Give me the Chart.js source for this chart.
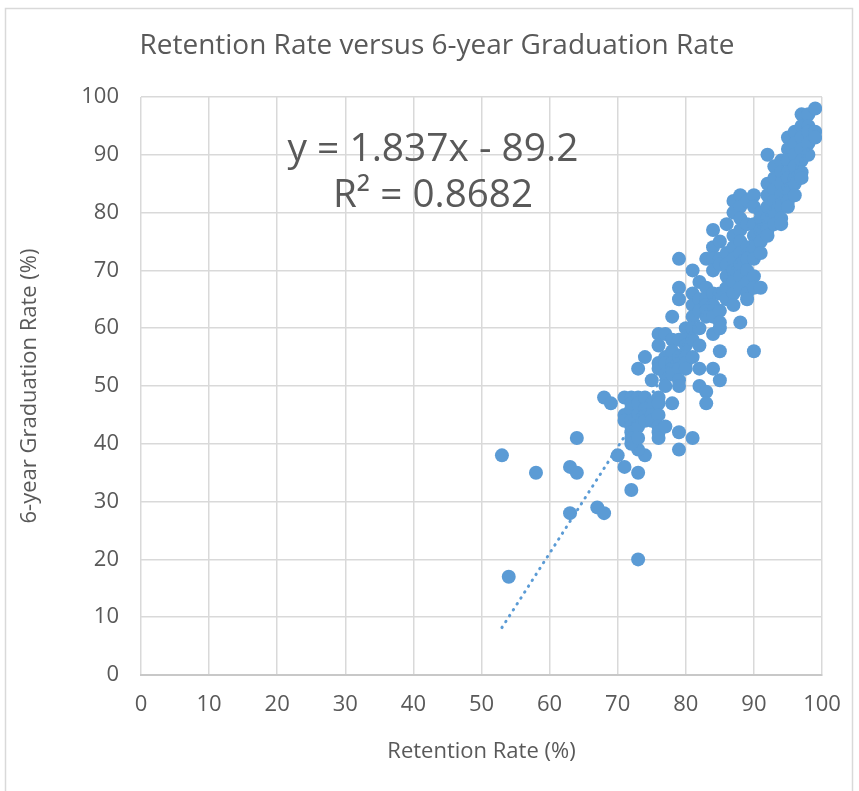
<!DOCTYPE html>
<html>
<head>
<meta charset="utf-8">
<script src="https://cdn.jsdelivr.net/npm/chart.js@4.4.0/dist/chart.umd.min.js"></script>
<style>
  html, body { margin: 0; padding: 0; background: #fff; }
  canvas { display: block; }
</style>
</head>
<body>
<canvas id="myChart" width="859" height="791"></canvas>
<script>
const chartTitle = 'Retention Rate versus 6-year Graduation Rate';
const xTitle = 'Retention Rate (%)';
const yTitle = '6-year Graduation Rate (%)';
const equationLines = ['y = 1.837x - 89.2', 'R\u00B2 = 0.8682'];

// retention[i] goes with graduation[i]
const retention = [
  53, 54, 58, 63, 64, 64, 63, 67, 68, 68, 69, 70, 71, 72, 73, 73, 74, 73,
  71, 71, 71,
  72, 72, 72, 72, 72, 72, 72, 72,
  73, 73, 73, 73, 73, 73, 73,
  74, 74, 74, 74, 74,
  75, 75, 75, 75,
  76, 76, 76, 76, 76, 76, 76, 76, 76, 76,
  77, 77, 77, 77, 77, 77,
  78, 78, 78, 78, 78, 78, 78,
  79, 79, 79, 79, 79, 79, 79, 79, 79, 79,
  80, 80, 80, 80, 80, 80,
  81, 81, 81, 81, 81, 81, 81, 81,
  82, 82, 82, 82, 82, 82, 82,
  83, 83, 83, 83, 83, 83, 83, 83,
  84, 84, 84, 84, 84, 84, 84, 84, 84,
  85, 85, 85, 85, 85, 85, 85, 85, 85,
  86, 86, 86, 86, 86, 86,
  87, 87, 87, 87, 87, 87, 87, 87, 87,
  88, 88, 88, 88, 88, 88, 88, 88, 88, 88,
  89, 89, 89, 89, 89, 89, 89, 89,
  90, 90, 90, 90, 90, 90, 90, 90, 90,
  91, 91, 91, 91, 91, 91,
  92, 92, 92, 92, 92, 92, 92,
  93, 93, 93, 93, 93, 93,
  94, 94, 94, 94, 94, 94, 94,
  95, 95, 95, 95, 95, 95, 95, 95,
  96, 96, 96, 96, 96, 96, 96,
  97, 97, 97, 97, 97, 97, 97,
  98, 98, 98, 98, 98,
  99, 99, 99
];
const graduation = [
  38, 17, 35, 36, 35, 41, 28, 29, 28, 48, 47, 38, 36, 32, 35, 20, 38, 39,
  48, 45, 44,
  48, 46, 44, 43, 42, 41, 40, 47,
  53, 48, 47, 45, 44, 43, 41,
  55, 48, 46, 45, 44,
  51, 47, 45, 44,
  59, 57, 54, 53, 48, 47, 45, 43, 42, 41,
  59, 55, 54, 52, 50, 43,
  62, 58, 56, 54, 53, 52, 47,
  72, 67, 65, 58, 55, 53, 51, 50, 42, 39,
  60, 58, 57, 55, 54, 53,
  70, 66, 64, 62, 60, 58, 55, 41,
  68, 65, 63, 60, 57, 53, 50,
  72, 67, 65, 64, 63, 62, 49, 47,
  77, 74, 72, 70, 66, 64, 62, 59, 53,
  75, 72, 71, 66, 63, 61, 60, 56, 51,
  78, 73, 71, 69, 67, 65,
  82, 80, 76, 74, 72, 70, 68, 66, 64,
  83, 81, 79, 77, 75, 73, 71, 69, 67, 61,
  82, 78, 74, 72, 70, 68, 66, 65,
  83, 81, 78, 76, 74, 72, 69, 67, 56,
  80, 79, 77, 75, 73, 67,
  90, 85, 83, 81, 79, 77, 76,
  88, 86, 84, 82, 80, 78,
  89, 87, 85, 83, 81, 79, 78,
  93, 91, 89, 87, 86, 84, 82, 81,
  94, 92, 90, 88, 86, 85, 83,
  97, 95, 93, 91, 89, 87, 86,
  97, 95, 94, 92, 90,
  98, 94, 93
];

// linear trendline end points (from the equation shown)
const trendX = [53, 99];
const trendY = [8.2, 92.7];

const xTicks = [0, 10, 20, 30, 40, 50, 60, 70, 80, 90, 100];
const yTicks = [0, 10, 20, 30, 40, 50, 60, 70, 80, 90, 100];

const textColor = '#595959';
const gridColor = '#d9d9d9';
const dotColor = '#5b9bd5';

const scatterPoints = retention.map((r, i) => ({ x: r, y: graduation[i] }));
const trendPoints = trendX.map((x, i) => ({ x: x, y: trendY[i] }));

const frame = {
  id: 'frame',
  beforeDraw(chart) {
    const ctx = chart.ctx;
    ctx.save();
    ctx.fillStyle = '#fff';
    ctx.fillRect(0, 0, chart.width, chart.height);
    ctx.strokeStyle = gridColor;
    ctx.lineWidth = 1.5;
    ctx.strokeRect(5.5, 8.5, 847, 800);
    ctx.restore();
  },
  afterDraw(chart) {
    const ctx = chart.ctx;
    ctx.save();
    ctx.fillStyle = textColor;
    ctx.textAlign = 'center';
    ctx.textBaseline = 'middle';
    ctx.font = '28px "Open Sans"';
    ctx.fillText(chartTitle, 437, 46, 595);
    ctx.font = '39px "Open Sans"';
    ctx.fillText(equationLines[0], 433, 150, 291);
    ctx.fillText(equationLines[1], 433, 196, 200);
    ctx.restore();
  }
};

const ctx = document.getElementById('myChart').getContext('2d');
const myChart = new Chart(ctx, {
  type: 'scatter',
  data: {
    datasets: [{
      label: 'Graduation',
      data: scatterPoints,
      backgroundColor: dotColor,
      borderColor: dotColor,
      borderWidth: 0,
      pointRadius: 7,
      order: 2
    }, {
      type: 'line',
      label: 'Trend',
      data: trendPoints,
      showLine: true,
      borderColor: dotColor,
      borderWidth: 3,
      borderDash: [0.5, 6.5],
      borderCapStyle: 'round',
      pointRadius: 0,
      fill: false,
      order: 1
    }]
  },
  options: {
    responsive: false,
    animation: false,
    layout: { padding: { top: 97, right: 37, left: 0, bottom: 0 } },
    plugins: {
      legend: { display: false },
      tooltip: { enabled: false }
    },
    scales: {
      x: {
        type: 'linear',
        min: 0,
        max: 100,
        afterFit: (scale) => { scale.height = 116; },
        afterBuildTicks: (scale) => { scale.ticks = xTicks.map(v => ({ value: v })); },
        grid: { color: gridColor, lineWidth: 1.5, drawTicks: false },
        border: { color: '#c8c8c8', width: 2 },
        ticks: { color: textColor, font: { family: 'Open Sans', size: 22 }, padding: 17 },
        title: {
          display: true,
          text: xTitle,
          color: textColor,
          font: { family: 'Open Sans', size: 22 },
          padding: { top: 0, bottom: 26 }
        }
      },
      y: {
        type: 'linear',
        min: 0,
        max: 100,
        afterFit: (scale) => { scale.width = 141; },
        afterBuildTicks: (scale) => { scale.ticks = yTicks.map(v => ({ value: v })); },
        grid: { color: gridColor, lineWidth: 1.5, drawTicks: false },
        border: { display: false },
        ticks: { color: textColor, font: { family: 'Open Sans', size: 22 }, padding: 22 },
        title: {
          display: true,
          text: yTitle,
          color: textColor,
          font: { family: 'Open Sans', size: 22 },
          padding: { top: 17, bottom: 0 }
        }
      }
    }
  },
  plugins: [frame]
});
</script>
</body>
</html>
